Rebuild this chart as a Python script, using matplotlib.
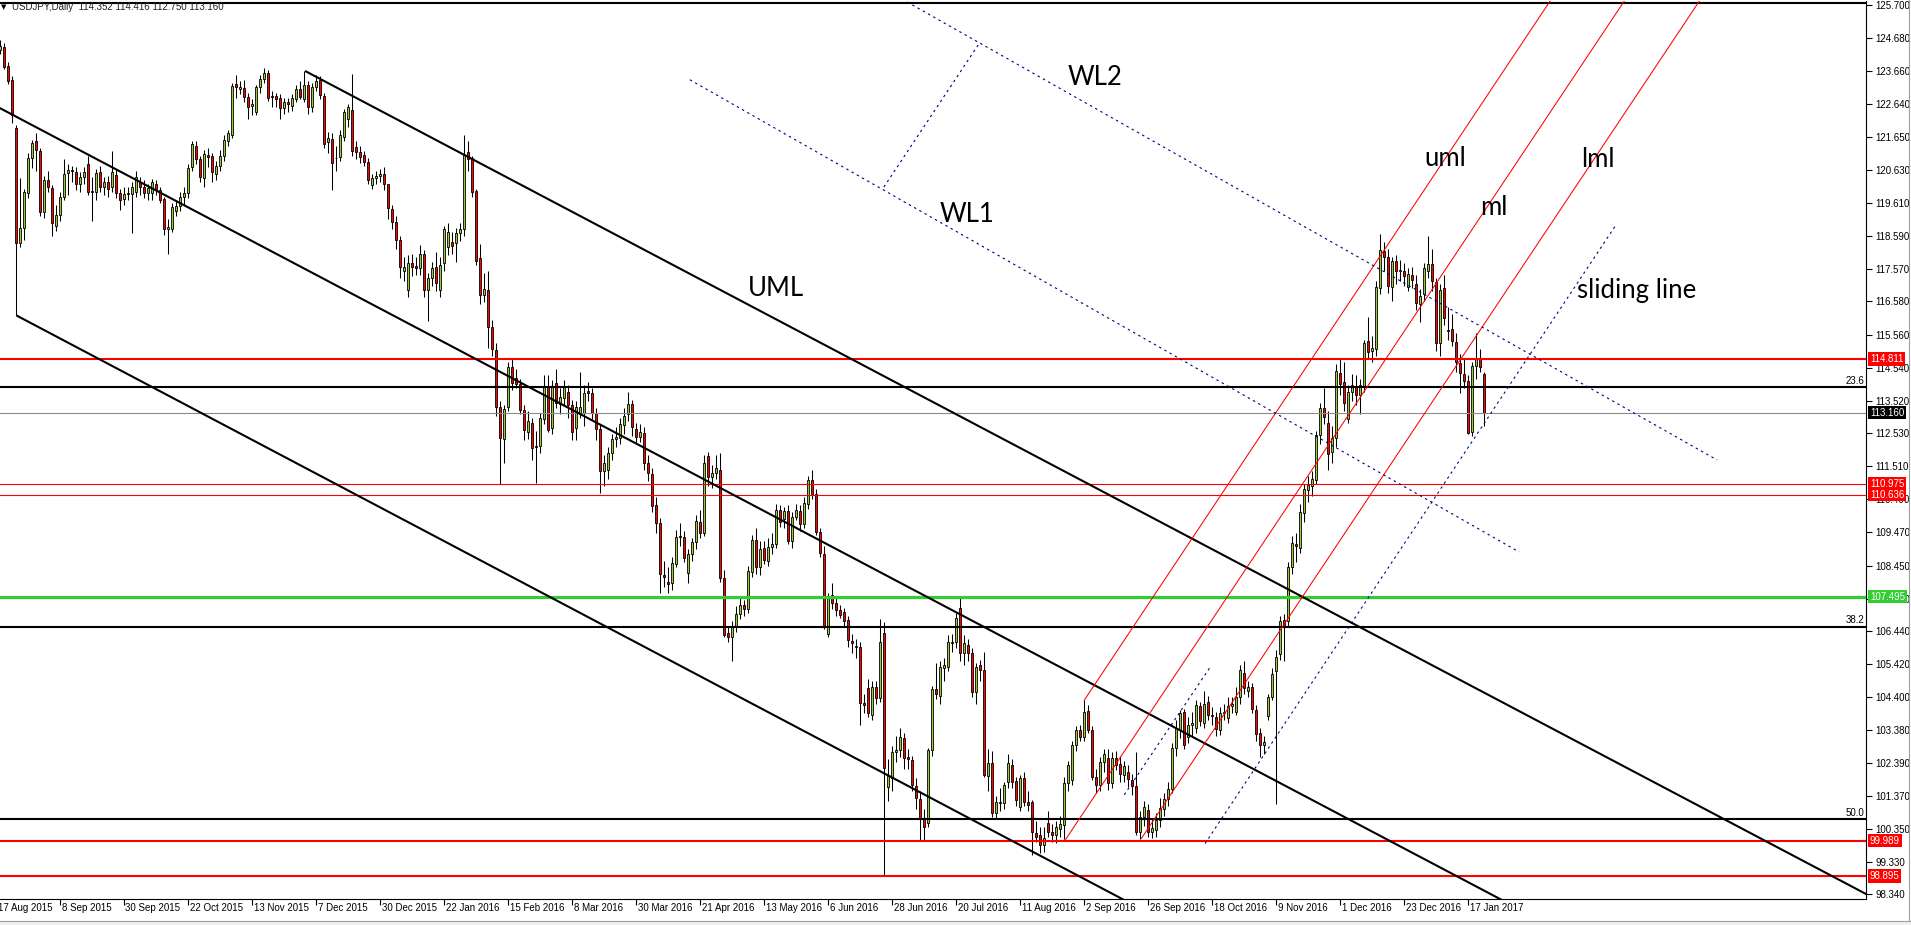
import numpy as np
import matplotlib
matplotlib.use("Agg")
import matplotlib.pyplot as plt
from matplotlib.transforms import blended_transform_factory
from matplotlib.patches import Rectangle

plt.rcParams['font.family'] = ['Liberation Sans', 'DejaVu Sans']

# ---------------- data: USDJPY daily candles (bar index 1..372) ----------------
opens = [
 124.30,124.42,123.82,123.39,121.90,118.39,118.83,119.90,120.98,121.52,
 121.21,119.34,120.30,120.06,118.90,119.25,119.80,120.52,120.62,120.55,
 120.19,120.40,120.80,119.99,119.94,120.57,120.11,120.24,120.10,120.47,
 119.91,119.72,119.91,119.89,119.96,120.24,120.11,119.91,119.91,120.18,
 120.01,119.72,118.80,118.82,119.37,119.50,119.80,119.91,120.71,121.36,
 120.95,120.37,121.08,121.05,120.50,120.76,121.05,121.53,121.70,123.27,
 123.12,123.14,122.86,122.59,122.42,123.17,123.43,123.62,122.88,122.90,
 122.83,122.52,122.72,122.60,122.80,123.11,122.80,123.24,122.57,123.19,
 123.39,122.90,121.48,121.57,120.98,121.02,121.63,122.18,122.47,121.34,
 121.18,121.07,120.88,120.16,120.37,120.44,120.50,120.18,119.41,119.03,
 118.47,117.50,116.93,117.75,117.68,117.60,118.04,116.93,117.29,117.65,
 116.93,117.75,118.26,118.41,118.39,118.67,118.80,121.19,120.98,119.98,
 117.90,116.78,116.93,115.80,115.08,113.32,112.34,113.32,114.57,114.21,
 114.04,113.24,112.57,112.85,112.13,112.13,112.95,113.94,112.67,114.06,
 113.42,113.60,113.80,113.39,112.67,113.16,113.14,113.83,113.75,113.14,
 112.64,111.37,111.39,111.93,112.34,112.37,112.78,113.12,113.42,112.64,
 112.42,112.52,111.60,111.26,110.32,109.75,108.16,107.96,107.90,108.50,
 109.36,109.34,108.23,108.80,109.17,109.80,109.44,111.82,111.19,111.29,
 111.39,108.06,106.37,106.24,106.57,106.96,107.24,107.11,108.26,109.24,
 108.40,108.98,108.60,109.03,109.12,110.16,109.87,110.14,109.22,109.96,
 110.14,109.73,110.35,111.08,110.65,109.49,108.81,106.35,107.55,107.31,
 107.08,107.03,106.78,106.14,105.99,105.96,104.21,104.67,103.86,104.72,
 104.37,106.37,101.65,101.90,102.73,102.78,103.14,102.55,102.47,101.67,
 101.26,100.67,100.54,102.78,104.64,104.44,105.30,105.34,106.11,106.11,
 107.14,105.75,106.01,105.75,104.57,105.39,105.24,101.98,102.37,100.83,
 101.19,101.16,101.80,102.32,101.82,101.03,101.90,101.19,101.19,100.21,
 100.16,99.85,100.54,100.26,100.16,100.36,100.47,101.75,101.85,102.93,
 103.39,103.17,103.99,103.39,101.96,101.71,102.41,102.52,101.77,102.52,
 102.36,102.00,102.10,101.85,101.66,100.24,100.71,100.93,100.26,100.31,
 100.62,100.95,101.27,101.58,102.85,103.39,103.95,103.17,103.56,103.45,
 104.12,103.62,104.26,103.84,103.78,103.39,103.90,103.75,104.12,103.95,
 104.40,105.16,104.60,104.71,104.01,103.30,102.92,103.82,104.42,105.20,
 105.72,106.78,106.75,108.40,109.12,109.00,110.08,110.78,110.89,111.09,
 112.48,113.29,112.85,111.95,112.37,114.38,114.10,112.96,113.78,113.97,
 113.71,113.97,115.37,115.04,115.10,117.00,118.14,117.94,117.03,117.83,
 117.55,117.52,117.03,117.39,117.12,116.50,116.81,117.50,117.73,117.19,
 115.29,116.98,115.70,115.72,115.34,114.67,114.35,114.14,112.57,114.59,114.83,114.352]
highs = [
 124.62,124.52,123.95,123.50,122.02,120.37,120.05,121.15,121.55,121.75,
 121.30,120.45,120.60,120.15,119.55,119.95,120.95,120.80,120.75,120.70,
 120.55,120.70,121.05,120.40,120.65,120.75,120.40,120.45,121.20,120.65,
 120.05,120.10,120.10,120.25,120.60,120.40,120.30,120.20,120.35,120.30,
 120.10,119.80,119.10,119.60,119.70,119.95,120.10,120.80,121.50,121.50,
 121.05,121.25,121.30,121.15,120.90,121.25,121.70,121.85,123.30,123.55,
 123.35,123.40,123.00,122.80,123.25,123.55,123.76,123.70,123.05,123.00,
 122.95,122.85,122.85,122.95,123.25,123.35,123.68,123.35,123.30,123.55,
 123.50,123.00,121.80,121.75,121.35,121.85,122.50,122.65,123.58,121.50,
 121.35,121.20,121.00,120.50,120.60,120.65,120.70,120.20,119.55,119.20,
 118.60,117.95,118.00,118.05,117.95,118.30,118.15,117.45,117.80,118.10,
 117.95,118.90,119.00,118.70,118.85,119.00,121.70,121.50,121.05,120.05,
 118.35,117.45,117.50,116.00,115.30,113.50,113.40,114.70,114.85,114.50,
 114.20,113.40,113.20,113.00,112.60,113.15,114.30,114.30,114.15,114.50,
 113.90,114.15,114.00,113.55,113.50,114.40,114.00,114.10,113.90,113.30,
 112.80,111.85,112.10,112.50,112.70,113.00,113.30,113.80,113.55,112.85,
 112.80,112.70,111.85,111.45,110.55,109.90,108.60,108.40,108.70,109.55,
 109.75,109.50,108.95,109.30,110.00,110.15,111.85,111.95,111.55,111.85,
 111.90,108.30,106.60,106.75,107.20,107.45,107.40,108.45,109.40,109.60,
 109.20,109.20,109.30,109.45,110.35,110.30,110.25,110.30,110.10,110.35,
 110.30,110.55,111.20,111.40,110.80,109.60,109.05,107.60,107.90,107.50,
 107.25,107.15,106.90,106.35,106.20,106.10,104.50,104.95,104.90,104.90,
 106.80,106.73,102.50,102.90,103.20,103.45,103.30,102.80,102.60,101.90,
 101.50,100.95,102.85,104.75,105.45,105.50,105.60,106.30,106.35,107.00,
 107.49,106.30,106.20,105.90,105.45,105.55,105.80,102.80,102.75,101.35,
 101.60,101.80,102.65,102.50,101.95,102.00,102.10,101.50,101.25,100.60,
 100.40,100.40,100.90,100.50,100.60,100.75,101.95,102.45,103.05,103.50,
 103.55,104.32,104.15,103.50,102.20,102.55,102.80,102.80,102.70,102.75,
 102.60,102.45,102.30,102.05,102.72,100.90,101.20,101.10,100.65,100.85,
 101.30,101.45,101.80,103.00,103.70,104.00,104.05,103.80,103.95,104.30,
 104.25,104.60,104.45,104.10,103.95,104.10,104.20,104.40,104.40,104.70,
 105.40,105.50,104.90,104.85,104.15,103.45,103.20,104.50,105.30,105.86,
 106.90,106.95,108.55,109.35,109.45,110.35,110.95,111.20,111.35,112.60,
 113.45,113.90,113.20,112.75,114.65,114.85,114.70,114.00,114.35,114.30,
 114.20,115.40,116.10,115.50,117.20,118.66,118.40,118.20,117.95,118.00,
 117.85,117.75,117.60,117.65,117.40,116.95,117.75,118.60,118.20,117.30,
 117.10,117.40,116.40,116.20,115.60,114.95,114.80,114.30,114.70,115.60,115.10,114.416]
lows = [
 124.20,123.72,123.28,122.08,116.15,118.24,118.47,119.75,120.68,120.60,
 119.20,119.15,119.95,118.60,118.75,119.05,119.70,119.85,120.25,120.00,
 119.95,120.20,119.85,119.05,119.70,119.95,119.85,119.80,119.95,119.75,
 119.40,119.55,119.70,118.68,119.80,119.85,119.75,119.70,119.70,119.85,
 119.60,118.62,118.05,118.70,119.20,119.35,119.55,119.75,120.60,120.80,
 120.25,120.10,120.70,120.25,120.30,120.60,120.90,121.35,121.60,122.85,
 122.95,122.70,122.20,122.30,122.30,123.00,123.30,122.75,122.55,122.55,
 122.20,122.35,122.40,122.45,122.70,122.80,122.70,122.35,122.40,123.05,
 122.80,121.30,121.15,120.00,120.60,120.90,121.50,121.95,121.05,120.95,
 120.85,120.75,120.20,120.05,120.20,120.25,120.00,119.10,118.80,118.20,
 117.30,117.20,116.70,117.35,117.40,117.40,116.70,115.97,117.05,116.90,
 116.70,117.50,118.00,118.05,117.80,118.45,118.60,120.60,119.80,117.70,
 116.50,116.55,115.15,114.90,113.05,110.96,111.60,113.20,113.85,113.90,
 113.10,112.30,112.35,111.70,111.00,111.90,112.80,112.55,112.50,113.30,
 113.10,113.40,113.00,112.30,112.30,113.00,112.75,113.50,112.95,112.30,
 110.67,110.90,111.10,111.70,112.10,112.20,112.50,112.90,112.45,112.20,
 112.25,111.40,111.05,110.10,109.45,107.62,107.80,107.62,107.70,108.40,
 109.05,108.55,107.90,108.60,108.95,109.30,109.35,110.90,110.85,111.10,
 107.95,106.25,106.10,105.50,106.40,106.80,106.90,107.00,108.10,108.20,
 108.15,108.50,108.45,108.80,109.00,109.65,109.60,109.10,109.00,109.85,
 109.50,109.60,110.20,110.50,109.40,108.70,106.50,106.25,107.10,106.90,
 106.85,106.55,105.95,105.75,105.60,103.55,103.90,103.80,103.70,104.20,
 104.25,98.90,101.20,101.50,102.40,102.55,102.20,102.20,101.50,100.95,
 100.00,99.99,100.40,102.60,104.35,104.20,104.90,105.20,105.80,105.90,
 105.50,105.40,105.50,104.40,104.20,104.90,101.95,101.50,100.70,100.65,
 100.90,100.95,101.60,101.60,101.05,100.90,101.05,100.90,99.55,99.95,
 99.60,99.65,100.10,99.95,99.90,100.10,100.05,101.50,101.70,102.75,
 103.05,103.05,103.30,101.85,101.45,101.50,102.10,101.55,101.60,102.15,
 101.80,101.80,101.65,101.40,100.15,100.05,100.45,100.10,100.08,100.10,
 100.40,100.75,101.05,101.45,102.60,103.15,102.80,103.00,103.20,103.30,
 103.50,103.45,103.70,103.55,103.20,103.25,103.70,103.60,103.90,103.85,
 104.20,104.50,104.40,103.90,103.05,102.55,102.65,103.70,104.30,101.13,
 105.55,105.50,106.60,108.20,108.55,108.85,109.80,110.40,110.60,110.95,
 112.20,112.80,111.40,111.60,112.10,113.70,113.20,112.85,113.50,113.40,
 113.10,113.80,114.80,114.70,114.90,116.80,117.50,116.85,116.60,117.10,
 117.20,117.05,116.90,117.00,116.30,115.95,116.60,117.30,116.90,115.05,
 114.90,115.85,115.40,115.20,114.40,113.75,113.90,112.50,112.45,114.20,114.40,112.750]
closes = [
 124.45,123.80,123.36,122.32,118.39,118.85,119.96,120.98,121.44,121.24,
 119.34,120.30,120.10,119.00,119.25,119.80,120.50,120.62,120.58,120.19,
 120.40,120.56,119.96,119.94,120.54,120.09,120.26,120.03,120.57,119.91,
 119.70,119.89,119.89,120.09,120.42,120.11,119.93,120.06,120.24,120.01,
 119.70,118.82,118.86,119.47,119.50,119.80,119.93,120.68,121.42,120.95,
 120.40,121.11,121.03,120.57,120.76,121.05,121.55,121.75,123.21,123.17,
 123.17,122.86,122.55,122.65,123.17,123.43,123.62,122.85,122.86,122.80,
 122.52,122.70,122.66,122.83,123.11,122.86,123.24,122.57,123.19,123.36,
 122.93,121.41,121.60,120.85,121.00,121.70,122.40,122.55,121.22,121.19,
 121.03,120.88,120.32,120.37,120.44,120.50,120.18,119.44,119.03,118.47,
 117.65,117.65,117.75,117.65,117.62,118.04,116.93,117.29,117.60,117.16,
 117.70,118.80,118.70,118.29,118.67,118.80,121.08,120.95,119.94,117.83,
 116.78,116.95,115.80,115.10,113.32,112.37,113.26,114.55,114.06,114.04,
 113.24,112.62,112.91,112.06,112.09,112.98,113.96,112.62,113.98,113.46,
 113.65,113.94,113.39,112.57,113.32,113.34,113.77,113.75,113.16,112.64,
 111.37,111.60,111.93,112.34,112.40,112.81,113.05,113.42,112.70,112.40,
 112.57,111.60,111.29,110.29,109.75,108.19,108.11,107.89,108.52,109.34,
 109.32,108.67,108.80,109.17,109.83,109.44,111.62,111.17,111.29,111.44,
 108.06,106.31,106.24,106.57,106.96,107.24,107.11,108.28,109.24,108.40,
 108.96,108.62,109.03,109.12,110.16,109.80,110.14,109.22,109.96,110.16,
 109.73,110.37,111.08,110.65,109.49,108.83,106.57,107.49,107.31,107.08,
 106.93,106.76,106.16,106.08,105.96,104.21,104.16,103.91,104.72,104.37,
 106.11,102.21,101.97,102.73,102.78,103.17,102.52,102.49,101.70,101.29,
 100.67,100.40,102.78,104.64,104.50,105.34,105.40,106.11,106.08,106.83,
 105.75,106.08,105.75,104.57,105.34,105.24,102.01,102.37,100.83,101.19,
 101.14,101.70,102.39,101.80,101.24,101.90,101.19,101.08,100.25,100.11,
 99.85,100.06,100.26,100.16,100.42,100.50,101.75,102.31,102.93,103.39,
 103.19,103.96,103.39,101.96,101.71,102.41,102.66,101.77,102.52,102.33,
 102.03,102.27,101.88,101.66,100.24,100.71,101.02,100.24,100.37,100.62,
 100.99,101.27,101.58,102.85,103.45,103.90,102.94,103.56,103.60,104.15,
 103.67,104.20,103.84,103.82,103.41,103.90,103.95,104.12,104.18,104.42,
 105.24,104.68,104.73,104.04,103.28,102.92,103.03,104.42,105.13,105.63,
 106.75,106.60,108.40,109.15,109.04,110.10,110.81,110.94,111.11,112.46,
 113.29,113.03,111.87,112.37,114.45,114.04,113.44,113.80,114.00,113.71,
 114.00,115.31,115.03,115.14,117.01,118.16,117.94,117.06,117.83,117.50,
 117.50,117.36,117.42,117.24,116.52,116.75,117.60,117.73,117.22,115.31,
 116.93,116.06,115.68,115.37,114.70,114.39,114.14,112.54,114.59,114.83,114.57,113.160]

# x-axis date labels (every 16 bars, starting at bar 0)
date_labels = ["17 Aug 2015", "8 Sep 2015", "30 Sep 2015", "22 Oct 2015", "13 Nov 2015",
               "7 Dec 2015", "30 Dec 2015", "22 Jan 2016", "15 Feb 2016", "8 Mar 2016",
               "30 Mar 2016", "21 Apr 2016", "13 May 2016", "6 Jun 2016", "28 Jun 2016",
               "20 Jul 2016", "11 Aug 2016", "2 Sep 2016", "26 Sep 2016", "18 Oct 2016",
               "9 Nov 2016", "1 Dec 2016", "23 Dec 2016", "17 Jan 2017"]
date_bar_idx = [16 * k for k in range(len(date_labels))]

price_ticks = [125.700, 124.680, 123.660, 122.640, 121.650, 120.630, 119.610, 118.590,
               117.570, 116.580, 115.560, 114.540, 113.520, 112.530, 111.510, 110.490,
               109.470, 108.450, 107.430, 106.440, 105.420, 104.400, 103.380, 102.390,
               101.370, 100.350, 99.330, 98.340]

# horizontal levels
red_thick_levels = [114.811, 99.989, 98.895]
red_thin_levels = [110.975, 110.636]
green_level = 107.495
last_price = 113.160
fib_levels = [125.77, 113.94, 106.57, 100.65]
fib_names = ["0.0", "23.6", "38.2", "50.0"]

# trend lines: (bar0, price0, bar1, price1)
black_lines = [(5.0, 116.15, 300.0, 96.99),        # lower parallel
               (-5.0, 122.91, 400.0, 96.63),       # middle parallel
               (77.2, 123.67, 480.0, 97.53)]       # UML
red_lines = [(272.0, 104.31, 420.0, 131.65),       # uml
             (267.2, 100.00, 430.0, 130.07),       # ml
             (286.3, 100.06, 440.0, 128.45)]       # lml
blue_lines = [(302.2, 99.90, 404.9, 118.93),       # sliding line
              (282.0, 101.40, 303.6, 105.35),      # short parallel
              (173.4, 123.40, 380.7, 108.87),      # WL1
              (220.0, 126.33, 430.2, 111.70),      # WL2
              (221.9, 120.10, 245.9, 124.55)]      # WL connector

annotations = [("UML", 187.9, 116.75), ("WL2", 267.9, 123.24), ("WL1", 235.9, 119.02),
               ("uml", 356.9, 120.75), ("ml", 370.9, 119.24), ("lml", 396.2, 120.72),
               ("sliding line", 395.2, 116.68)]

price_boxes = [(114.811, "114.811", "#FF0000"), (113.160, "113.160", "#000000"),
               (110.975, "110.975", "#FF0000"), (110.636, "110.636", "#FF0000"),
               (107.495, "107.495", "#32CD32"), (99.989, "99.989", "#FF0000"),
               (98.895, "98.895", "#FF0000")]

# ---------------- figure ----------------
W, H = 1911, 925
fig = plt.figure(figsize=(W / 100, H / 100), dpi=100)
fig.patch.set_facecolor("white")
ax_right_px, ax_top_px, ax_bot_px = 1866, 1, 899
ax = fig.add_axes([0, (H - ax_bot_px) / H, ax_right_px / W, (ax_bot_px - ax_top_px) / H])
ax.set_facecolor("white")
ax.set_xlim(0.925, 467.425)
ax.set_ylim(98.192, 125.823)

o = np.array(opens); h = np.array(highs); l = np.array(lows); c = np.array(closes)
assert len(o) == len(h) == len(l) == len(c) == 372
x = np.arange(1, len(c) + 1)

# candles
ax.vlines(x, l, h, color="black", linewidth=0.75, zorder=2)
body_bottom = np.minimum(o, c)
body_h = np.maximum(np.abs(c - o), 0.025)
body_col = np.where(c >= o, "#9ACD32", "#FF0000")
ax.bar(x, body_h, bottom=body_bottom, width=0.5, color=body_col,
       edgecolor="black", linewidth=0.6, zorder=2.1)

# horizontal lines
for lv in red_thick_levels:
    ax.axhline(lv, color="#FF0000", linewidth=1.5, zorder=3)
for lv in red_thin_levels:
    ax.axhline(lv, color="#FF0000", linewidth=0.8, zorder=3)
ax.axhline(green_level, color="#32CD32", linewidth=2.3, zorder=3)
ax.axhline(last_price, color="#8C8C8C", linewidth=0.8, zorder=3)
for lv in fib_levels:
    ax.axhline(lv, color="black", linewidth=1.5, zorder=3)

blend_y = blended_transform_factory(ax.transAxes, ax.transData)
for lv, nm in zip(fib_levels[1:], fib_names[1:]):
    ax.text(1 - 1.5 / ax_right_px, lv + 0.04, nm, transform=blend_y, ha="right",
            va="bottom", fontsize=7, color="black", zorder=4)

# trend lines
for (a0, p0, a1, p1) in black_lines:
    ax.plot([a0, a1], [p0, p1], color="black", linewidth=1.5, zorder=3,
            solid_capstyle="butt")
for (a0, p0, a1, p1) in red_lines:
    ax.plot([a0, a1], [p0, p1], color="#FF0000", linewidth=0.75, zorder=3)
for (a0, p0, a1, p1) in blue_lines:
    ax.plot([a0, a1], [p0, p1], color="#000080", linewidth=0.8,
            linestyle=(0, (2.2, 3.2)), zorder=3)

# annotation texts
for txt, xi, yp in annotations:
    ax.text(xi, yp, txt, fontsize=18.5, family=["Lato", "DejaVu Sans"],
            color="black", ha="left", va="baseline", zorder=5)

# axes styling
for sp in ["left", "top"]:
    ax.spines[sp].set_visible(False)
ax.spines["right"].set_linewidth(0.8)
ax.spines["bottom"].set_linewidth(0.8)
ax.yaxis.tick_right()
ax.set_yticks(price_ticks)
ax.set_yticklabels([f"{v:.3f}" for v in price_ticks])
ax.tick_params(axis="y", direction="out", length=4, width=0.8, pad=3,
               labelsize=7, colors="black")
ticks_in = [i for i in date_bar_idx if i >= 1]
ax.set_xticks(ticks_in)
ax.set_xticklabels([])
ax.tick_params(axis="x", direction="out", length=4, width=0.8, colors="black")

blend_x = blended_transform_factory(ax.transData, ax.transAxes)
y_lab = -(908 - ax_bot_px) / (ax_bot_px - ax_top_px)
for i, lab in zip(date_bar_idx, date_labels):
    ax.text(i + 0.3, y_lab, lab, transform=blend_x, ha="left", va="center",
            fontsize=7, color="black", clip_on=False)

# price boxes on the axis
for lv, txt, col in price_boxes:
    ax.text(1 + 4 / ax_right_px, lv, txt, transform=blend_y, ha="left", va="center",
            fontsize=7, color="white", clip_on=False, zorder=10,
            bbox=dict(boxstyle="square,pad=0.18", fc=col, ec="none"))

# header
fig.text(1 / W, 1 - 7 / H, "\u25bc", fontsize=5, va="center", ha="left",
         family=["DejaVu Sans"])
fig.text(12 / W, 1 - 7 / H, "USDJPY,Daily  114.352 114.416 112.750 113.160",
         fontsize=7, va="center", ha="left", color="#202020")

# window frame bits
fig.add_artist(Rectangle((0, 0), 1, 4 / H, transform=fig.transFigure,
                         facecolor="#F0F0F0", edgecolor="none"))
fig.add_artist(plt.Line2D([0, 1], [4 / H, 4 / H], transform=fig.transFigure,
                          color="#A0A0A0", linewidth=0.8))
fig.add_artist(plt.Line2D([1909 / W, 1909 / W], [4 / H, 1], transform=fig.transFigure,
                          color="#A0A0A0", linewidth=0.8))

fig.savefig("out.png", dpi=100, facecolor="white")
